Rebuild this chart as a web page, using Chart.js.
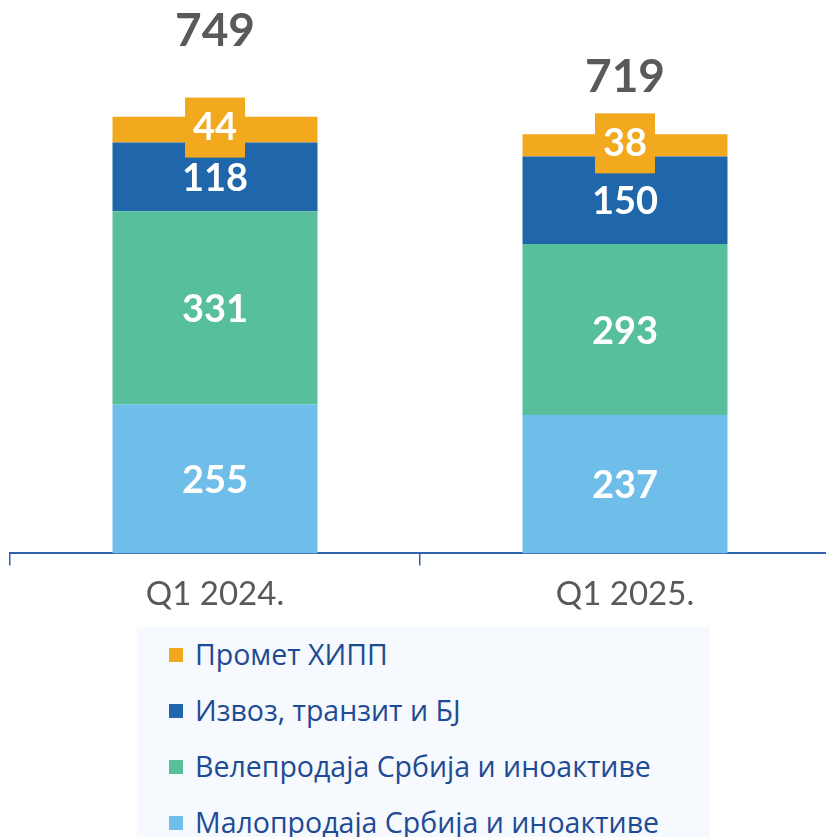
<!DOCTYPE html>
<html>
<head>
<meta charset="utf-8">
<script src="https://cdn.jsdelivr.net/npm/chart.js@4.4.1/dist/chart.umd.min.js"></script>
<style>
    html, body { margin: 0; padding: 0; background: #fff; overflow: hidden; }
    #wrap { position: relative; width: 836px; height: 623px; }
    #legend {
        position: absolute; left: 137px; top: 627px; width: 573px; height: 210px;
        background: #f6f9fd; font-family: 'Open Sans', sans-serif; font-size: 28.5px; color: #1f4b94;
    }
    .item { position: absolute; left: 32px; height: 30px; line-height: 30px; white-space: nowrap; }
    .item span.box { display: inline-block; width: 14px; height: 14px; margin-right: 12px; vertical-align: 3px; }
</style>
</head>
<body>
<div id="wrap"><canvas id="chart"></canvas></div>
<div id="legend"></div>
<script>
const categories = ['Q1 2024.', 'Q1 2025.'];
const retail = [255, 237];      // Малопродаја Србија и иноактиве
const wholesale = [331, 293];   // Велепродаја Србија и иноактиве
const exportTransit = [118, 150]; // Извоз, транзит и БЈ
const hipp = [44, 38];          // Промет ХИПП
const totals = [749, 719];

const seriesNames = ['Малопродаја Србија и иноактиве', 'Велепродаја Србија и иноактиве', 'Извоз, транзит и БЈ', 'Промет ХИПП'];
const seriesColors = ['#6fbde9', '#57c09b', '#1f66ab', '#f2a91d'];

// vertical lift of the total labels above the bar tops (px)
const totalLift = [85, 57];

const labelPlugin = {
    id: 'labels',
    afterDatasetsDraw(chart) {
        const ctx = chart.ctx;
        ctx.save();
        ctx.textAlign = 'center';
        ctx.textBaseline = 'middle';
        chart.data.datasets.forEach((ds, di) => {
            const meta = chart.getDatasetMeta(di);
            meta.data.forEach((bar, i) => {
                const yMid = (bar.y + bar.base) / 2;
                if (di === 3) {
                    ctx.fillStyle = seriesColors[3];
                    ctx.fillRect(bar.x - 30, yMid - 32, 60, 60);
                }
                ctx.fillStyle = '#ffffff';
                ctx.font = 'bold 38px Lato, sans-serif';
                ctx.fillText(ds.data[i], bar.x, yMid + (di === 3 ? -2 : 2));
            });
        });
        const topMeta = chart.getDatasetMeta(3);
        topMeta.data.forEach((bar, i) => {
            const y = chart.scales.y.getPixelForValue(totals[i]);
            ctx.fillStyle = '#595959';
            ctx.font = 'bold 46px Lato, sans-serif';
            ctx.fillText(totals[i], bar.x, y - totalLift[i]);
        });
        ctx.restore();
    }
};

const ctx = document.getElementById('chart').getContext('2d');
new Chart(ctx, {
    type: 'bar',
    data: {
        labels: categories,
        datasets: [
            { label: seriesNames[0], data: retail, backgroundColor: seriesColors[0] },
            { label: seriesNames[1], data: wholesale, backgroundColor: seriesColors[1] },
            { label: seriesNames[2], data: exportTransit, backgroundColor: seriesColors[2] },
            { label: seriesNames[3], data: hipp, backgroundColor: seriesColors[3] }
        ]
    },
    options: {
        responsive: true,
        maintainAspectRatio: false,
        animation: false,
        layout: { padding: { left: 10, right: 6, top: 0, bottom: 0 } },
        plugins: { legend: { display: false }, tooltip: { enabled: false } },
        datasets: { bar: { categoryPercentage: 1, barPercentage: 0.5, borderWidth: 0 } },
        scales: {
            x: {
                stacked: true,
                grid: { offset: true, drawOnChartArea: false, drawTicks: true, tickLength: 12, color: '#2f62ad', lineWidth: 1.5 },
                border: { display: true, color: '#2f62ad', width: 2 },
                ticks: { color: '#595959', font: { family: 'Lato', size: 33 }, padding: 9 }
            },
            y: {
                stacked: true,
                display: false,
                min: 0,
                max: 948
            }
        }
    },
    plugins: [labelPlugin]
});

// legend, top series first
const legend = document.getElementById('legend');
for (let k = 3; k >= 0; k--) {
    const row = document.createElement('div');
    row.className = 'item';
    row.style.top = (12 + (3 - k) * 56) + 'px';
    row.innerHTML = '<span class="box" style="background:' + seriesColors[k] + '"></span>' + seriesNames[k];
    legend.appendChild(row);
}
</script>
</body>
</html>
